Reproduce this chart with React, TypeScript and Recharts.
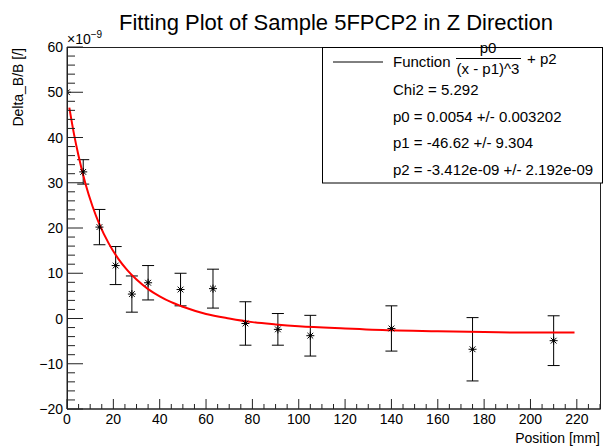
import React from 'react';
import { ComposedChart, Scatter, Line, XAxis, YAxis, ErrorBar } from 'recharts';

// measured points (x in mm, y in units of 1e-9)
const positions = [0, 7, 14, 21, 28, 35, 49, 63, 77, 91, 105, 140, 175, 210];
const deltaB = [50, 32.4, 20.2, 11.7, 5.4, 7.9, 6.4, 6.6, -1.1, -2.4, -3.8, -2.2, -6.8, -4.9];
const errors = [0, 2.7, 3.9, 4.2, 4.0, 3.8, 3.6, 4.3, 4.8, 3.5, 4.5, 5.0, 7.0, 5.5];

// fit curve
const fitX = [1, 3, 5, 8, 11, 14, 18, 22, 26, 30, 35, 40, 45, 50, 60, 70, 80, 90, 100, 120, 140, 160, 180, 200, 219];
const fitY = [46.6, 40.8, 35.9, 29.7, 24.8, 20.8, 16.6, 13.3, 10.7, 8.6, 6.5, 4.9, 3.6, 2.6, 1.0, 0.0, -0.8, -1.3, -1.7, -2.2, -2.6, -2.8, -3.0, -3.1, -3.1];

// axis ticks (minor + major)
const xTicks = [0, 5, 10, 15, 20, 25, 30, 35, 40, 45, 50, 55, 60, 65, 70, 75, 80, 85, 90, 95, 100, 105, 110, 115, 120, 125, 130, 135, 140, 145, 150, 155, 160, 165, 170, 175, 180, 185, 190, 195, 200, 205, 210, 215, 220, 225, 230];
const yTicks = [-20, -18, -16, -14, -12, -10, -8, -6, -4, -2, 0, 2, 4, 6, 8, 10, 12, 14, 16, 18, 20, 22, 24, 26, 28, 30, 32, 34, 36, 38, 40, 42, 44, 46, 48, 50, 52, 54, 56, 58, 60];

const legendRows = ['Chi2 = 5.292', 'p0 = 0.0054 +/- 0.003202', 'p1 = -46.62 +/- 9.304', 'p2 = -3.412e-09 +/- 2.192e-09'];

const points = positions.map((x, i) => ({ x, y: deltaB[i], err: errors[i] }));
const fit = fitX.map((x, i) => ({ x, fit: fitY[i] }));

const FONT = '"Liberation Sans", Arial, Helvetica, sans-serif';
const AX = '#222';

const fmt = (v: number) => (v < 0 ? `\u2212${-v}` : `${v}`);

const XTick = (props: any) => {
  const { x, y, payload } = props;
  const v = payload.value;
  const major = v % 20 === 0;
  return (
    <g>
      <line x1={x} x2={x} y1={y} y2={y - (major ? 10 : 5)} stroke={AX} />
      {major && v <= 220 && (
        <text x={x} y={y + 15} textAnchor="middle" fontSize={14} fontFamily={FONT} fill="#000">
          {v}
        </text>
      )}
    </g>
  );
};

const YTick = (props: any) => {
  const { x, y, payload } = props;
  const v = payload.value;
  const major = v % 10 === 0;
  return (
    <g>
      <line x1={x} x2={x + (major ? 16 : 8)} y1={y} y2={y} stroke={AX} />
      {major && (
        <text x={x - 4} y={y + 5} textAnchor="end" fontSize={14} fontFamily={FONT} fill="#000">
          {fmt(v)}
        </text>
      )}
    </g>
  );
};

// asterisk marker (ROOT style 3)
const Star = (props: any) => {
  const { cx, cy } = props;
  const r = 4;
  const d = r * 0.72;
  return (
    <g stroke="#000" strokeWidth={1}>
      <line x1={cx - r} x2={cx + r} y1={cy} y2={cy} />
      <line x1={cx} x2={cx} y1={cy - r} y2={cy + r} />
      <line x1={cx - d} x2={cx + d} y1={cy - d} y2={cy + d} />
      <line x1={cx - d} x2={cx + d} y1={cy + d} y2={cy - d} />
      <circle cx={cx} cy={cy} r={1.2} fill="#000" stroke="none" />
    </g>
  );
};

const App: React.FC = () => {
  return (
    <div style={{ position: 'absolute', left: 0, top: 0, width: 603, height: 448, background: '#fff' }}>
      <ComposedChart width={603} height={448} margin={{ top: 47, right: 3, left: 27, bottom: 9 }}>
        <XAxis
          dataKey="x"
          type="number"
          domain={[0, 230]}
          ticks={xTicks}
          interval={0}
          tickSize={0}
          tickMargin={0}
          tick={XTick}
          height={30}
          stroke={AX}
          allowDataOverflow
        />
        <YAxis
          type="number"
          domain={[-20, 60]}
          ticks={yTicks}
          interval={0}
          tickSize={0}
          tickMargin={0}
          tick={YTick}
          width={40}
          stroke={AX}
          allowDataOverflow
        />
        <Scatter data={points} dataKey="y" shape={Star} isAnimationActive={false}>
          <ErrorBar dataKey="err" direction="y" width={6} stroke="#000" strokeWidth={1} />
        </Scatter>
        <Line data={fit} dataKey="fit" type="monotone" stroke="#ff0000" strokeWidth={2} dot={false} isAnimationActive={false} />
      </ComposedChart>

      <svg width={603} height={448} style={{ position: 'absolute', left: 0, top: 0, pointerEvents: 'none' }} fontFamily={FONT}>
        <rect x={67.5} y={47.5} width={533} height={361.5} fill="none" stroke={AX} />
        <text x={336} y={30} textAnchor="middle" fontSize={22} fill="#000">
          Fitting Plot of Sample 5FPCP2 in Z Direction
        </text>
        <text x={67} y={44} fontSize={14} fill="#000">
          ×10<tspan fontSize={10} dy={-6}>−9</tspan>
        </text>
        <text x={23} y={48} transform="rotate(-90, 23, 48)" textAnchor="end" fontSize={14} fill="#000">
          Delta_B/B [/]
        </text>
        <text x={600} y={443} textAnchor="end" fontSize={14} fill="#000">
          Position [mm]
        </text>

        <rect x={322.5} y={47.5} width={280} height={135.5} fill="#fff" stroke="#000" />
        <line x1={333} x2={383} y1={62} y2={62} stroke="#000" />
        <text x={393} y={67} fontSize={15} fill="#000">Function</text>
        <text x={488} y={53} textAnchor="middle" fontSize={15} fill="#000">p0</text>
        <line x1={456} x2={521} y1={58.5} y2={58.5} stroke="#000" />
        <text x={488} y={74} textAnchor="middle" fontSize={15} fill="#000">(x - p1)^3</text>
        <text x={527} y={64} fontSize={15} fill="#000">+ p2</text>
        {legendRows.map((row, i) => (
          <text key={row} x={393} y={95 + i * 26.7} fontSize={15} fill="#000">
            {row}
          </text>
        ))}
      </svg>
    </div>
  );
};

export default App;
